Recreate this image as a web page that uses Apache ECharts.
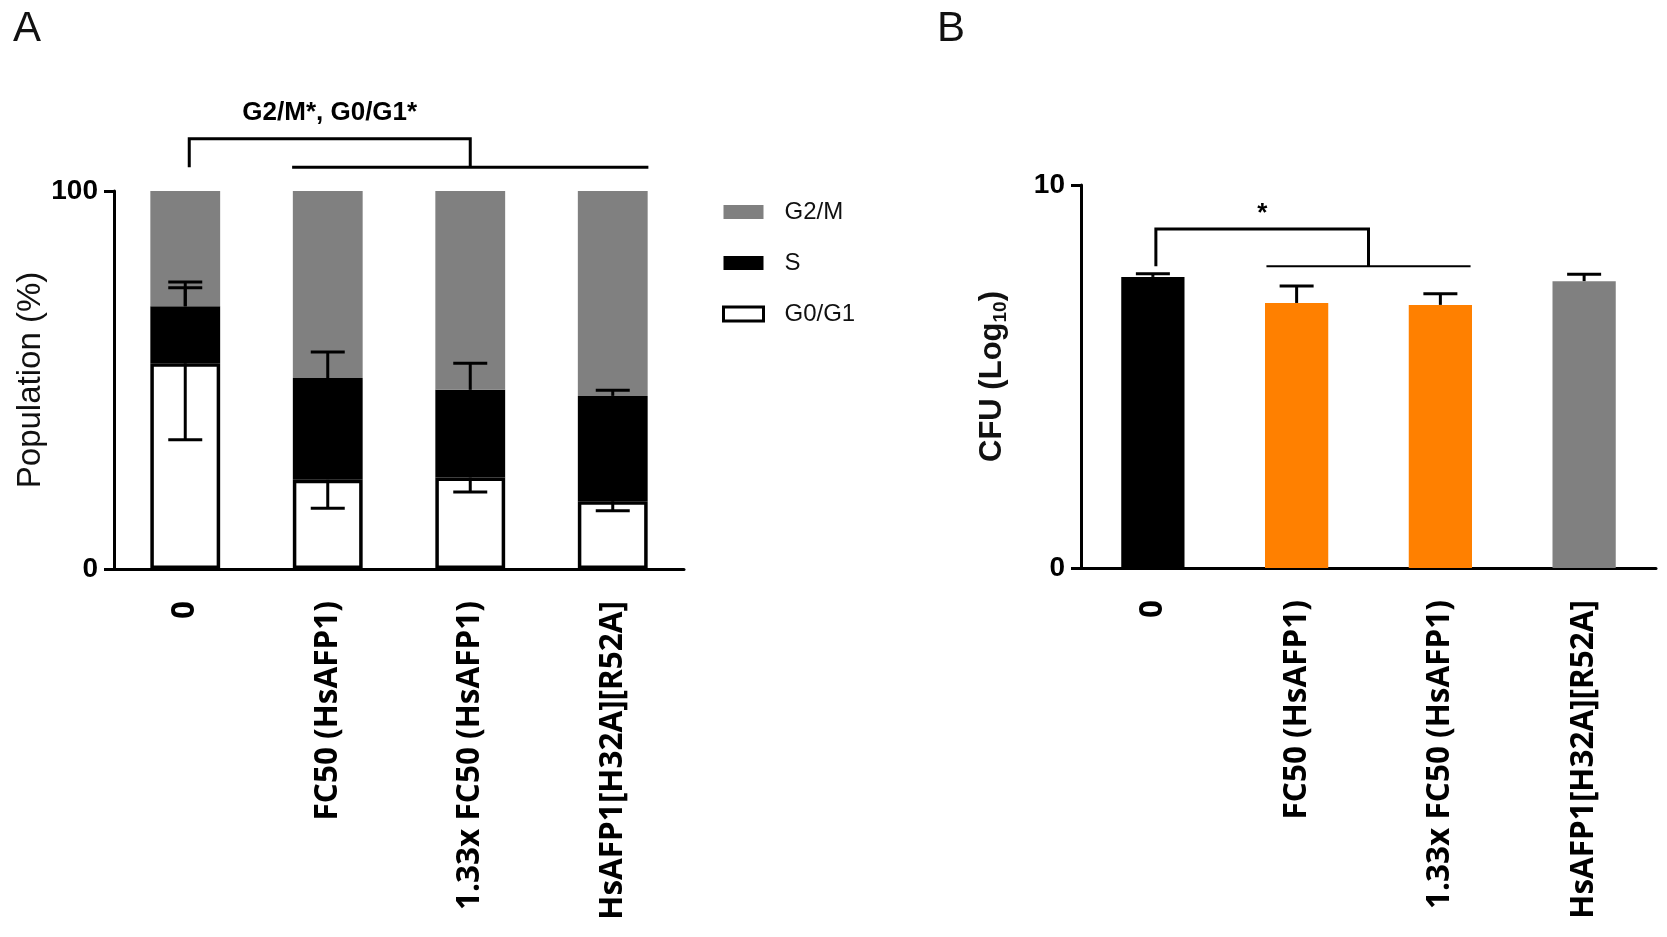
<!DOCTYPE html>
<html><head><meta charset="utf-8">
<script src="https://cdn.jsdelivr.net/npm/echarts@6/dist/echarts.min.js"></script>
<style>html,body{margin:0;padding:0;background:#fff}#c{width:1667px;height:937px}</style>
</head><body><div id="c"></div>
<script>
// ---- data ----
const categories = ['0', 'FC50 (HsAFP1)', '1.33x FC50 (HsAFP1)', 'HsAFP1[H32A][R52A]'];
const seriesNamesA = ['G0/G1', 'S', 'G2/M'];
const g0g1 = [54.4, 23.6, 24.2, 17.9];
const sPhase = [15.1, 26.9, 23.2, 27.9];
const g2m = [30.5, 49.5, 52.6, 54.2];
const sErrUp = [6.4, 6.9, 7.0, 1.5];
const sErrUp2 = [4.9, 0, 0, 0];
const g0g1ErrDown = [20.2, 7.5, 3.8, 2.5];
const yTicksA = [0, 100];
const cfu = [7.60, 6.92, 6.87, 7.49];
const cfuErr = [0.08, 0.44, 0.29, 0.18];
const cfuColors = ['#000000', '#FF8000', '#FF8000', '#808080'];
const yTicksB = [0, 10];
// significance: [leftCat, groupFromCat, groupToCat, yTop, yLine, yText]
const sigA = [0, 1, 3, 113.8, 106.3, 120.6];
const sigAText = 'G2/M*, G0/G1*';
const sigB = [0, 1, 2, 8.85, 7.88, 9.25];
const sigBText = '*';

// ---- helpers ----
const sTop = g0g1.map((v, i) => v + sPhase[i]);
const errA = [];
categories.forEach((c, i) => {
  errA.push([i, sTop[i], sTop[i] + sErrUp[i]]);
  if (sErrUp2[i] > 0) errA.push([i, sTop[i], sTop[i] + sErrUp2[i]]);
  errA.push([i, g0g1[i], g0g1[i] - g0g1ErrDown[i]]);
});
const errB = cfu.map((v, i) => [i, v, v + cfuErr[i]]);

function errRender(params, api) {
  const x = api.value(0);
  const p0 = api.coord([x, api.value(1)]);
  const p1 = api.coord([x, api.value(2)]);
  const half = 17;
  return { type: 'group', children: [
    { type: 'line', shape: { x1: p0[0], y1: p0[1], x2: p1[0], y2: p1[1] }, style: { stroke: '#000', lineWidth: 3 } },
    { type: 'line', shape: { x1: p1[0] - half, y1: p1[1], x2: p1[0] + half, y2: p1[1] }, style: { stroke: '#000', lineWidth: 3 } }
  ]};
}
function sigRender(extFrac, leftShift, text, font, lineW2) {
  return function (params, api) {
    const band = api.size([1, 0])[0];
    const l = api.coord([api.value(0), api.value(3)]);
    const l0 = api.coord([api.value(0), api.value(4)]);
    const a = api.coord([api.value(1), api.value(4)]);
    const b = api.coord([api.value(2), api.value(4)]);
    const x1 = a[0] - band * extFrac, x2 = b[0] + band * extFrac;
    const mid = (x1 + x2) / 2;
    const lx = l[0] + leftShift;
    const t = api.coord([api.value(0), api.value(5)]);
    const tx = (lx + mid) / 2;
    return { type: 'group', children: [
      { type: 'polyline', shape: { points: [[lx, l0[1]], [lx, l[1]], [mid, l[1]], [mid, a[1]]] }, style: { stroke: '#000', lineWidth: 3, fill: null } },
      { type: 'line', shape: { x1: x1, y1: a[1], x2: x2, y2: a[1] }, style: { stroke: '#000', lineWidth: lineW2 } },
      { type: 'text', x: tx, y: t[1], style: { text: text, font: font, fill: '#000', align: 'center', verticalAlign: 'middle' } }
    ]};
  };
}

const axisLineStyle = { show: true, lineStyle: { color: '#000', width: 3 } };
const xLabel = { rotate: 90, margin: 32, fontSize: 31.5, fontWeight: 'bold', fontFamily: 'Open Sans', color: '#000' };
const yLabel = { fontSize: 28, fontWeight: 'bold', fontFamily: 'Liberation Sans', color: '#000', margin: 16 };

const chart = echarts.init(document.getElementById('c'), null, { renderer: 'canvas' });
chart.setOption({
  animation: false,
  backgroundColor: '#fff',
  title: [
    { text: 'A', left: 8, top: 3, textStyle: { fontSize: 42, fontWeight: 'normal', fontFamily: 'Liberation Sans', color: '#111' } },
    { text: 'B', left: 932, top: 3, textStyle: { fontSize: 42, fontWeight: 'normal', fontFamily: 'Liberation Sans', color: '#111' } }
  ],
  legend: {
    orient: 'vertical', left: 717, top: 195, icon: 'rect', itemWidth: 40, itemHeight: 14, itemGap: 27,
    textStyle: { fontSize: 24, fontFamily: 'Liberation Sans', color: '#111', lineHeight: 24, padding: [0, 0, 0, 16] },
    data: [
      { name: 'G2/M' },
      { name: 'S' },
      { name: 'G0/G1', itemStyle: { color: '#fff', borderColor: '#000', borderWidth: 3 } }
    ]
  },
  grid: [
    { left: 114, top: 191, width: 570, height: 378 },
    { left: 1081, top: 185, width: 575, height: 383 }
  ],
  xAxis: [
    { type: 'category', gridIndex: 0, data: categories, axisLine: axisLineStyle, axisTick: { show: false }, axisLabel: xLabel },
    { type: 'category', gridIndex: 1, data: categories, axisLine: axisLineStyle, axisTick: { show: false }, axisLabel: xLabel }
  ],
  yAxis: [
    { type: 'value', gridIndex: 0, min: yTicksA[0], max: yTicksA[1], interval: yTicksA[1] - yTicksA[0],
      axisLine: axisLineStyle, axisTick: { show: true, length: 10, lineStyle: { color: '#000', width: 3 } },
      splitLine: { show: false }, axisLabel: yLabel,
      name: 'Population (%)', nameLocation: 'middle', nameRotate: 90, nameGap: 66,
      nameTextStyle: { fontSize: 33, fontFamily: 'Liberation Sans', color: '#111' } },
    { type: 'value', gridIndex: 1, min: yTicksB[0], max: yTicksB[1], interval: yTicksB[1] - yTicksB[0],
      axisLine: axisLineStyle, axisTick: { show: true, length: 10, lineStyle: { color: '#000', width: 3 } },
      splitLine: { show: false }, axisLabel: yLabel,
      name: '{a|CFU (Log}{s|10}{a|)}', nameLocation: 'middle', nameRotate: 90, nameGap: 71,
      nameTextStyle: { rich: {
        a: { fontSize: 31, fontWeight: 'bold', fontFamily: 'Liberation Sans', color: '#111', lineHeight: 36, verticalAlign: 'middle' },
        s: { fontSize: 19, fontWeight: 'bold', fontFamily: 'Liberation Sans', color: '#111', lineHeight: 36, verticalAlign: 'bottom', padding: [14, 0, 0, 0] }
      } } }
  ],
  series: [
    { name: 'G0/G1', type: 'bar', stack: 'a', xAxisIndex: 0, yAxisIndex: 0, barWidth: '49%', data: g0g1,
      itemStyle: { color: '#fff', borderColor: '#000', borderWidth: 3.5 } },
    { name: 'S', type: 'bar', stack: 'a', xAxisIndex: 0, yAxisIndex: 0, barWidth: '49%', data: sPhase,
      itemStyle: { color: '#000' } },
    { name: 'G2/M', type: 'bar', stack: 'a', xAxisIndex: 0, yAxisIndex: 0, barWidth: '49%', data: g2m,
      itemStyle: { color: '#808080' } },
    { type: 'custom', xAxisIndex: 0, yAxisIndex: 0, data: errA, renderItem: errRender, z: 5, silent: true },
    { type: 'custom', xAxisIndex: 0, yAxisIndex: 0, data: [sigA], z: 5, silent: true,
      renderItem: sigRender(0.25, 4, sigAText, 'bold 26px "Liberation Sans"', 3) },
    { name: 'CFU', type: 'bar', xAxisIndex: 1, yAxisIndex: 1, barWidth: '44%',
      data: cfu.map((v, i) => ({ value: v, itemStyle: { color: cfuColors[i] } })) },
    { type: 'custom', xAxisIndex: 1, yAxisIndex: 1, data: errB, renderItem: errRender, z: 5, silent: true },
    { type: 'custom', xAxisIndex: 1, yAxisIndex: 1, data: [sigB], z: 5, silent: true,
      renderItem: sigRender(0.21, 3, sigBText, 'bold 26px "Liberation Sans"', 2) }
  ]
});
</script></body></html>
